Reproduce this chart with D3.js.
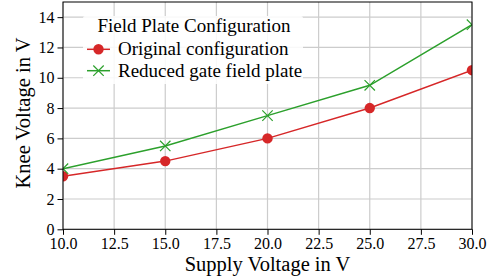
<!DOCTYPE html>
<html>
<head>
<meta charset="utf-8">
<script src="https://cdn.jsdelivr.net/npm/d3@7"></script>
<style>
  body { margin: 0; background: #fff; }
  text { font-family: "Liberation Serif", "DejaVu Serif", serif; fill: #000; }
</style>
</head>
<body>
<div id="chart"></div>
<script>
const supplyVoltage = [10, 15, 20, 25, 30];
const originalKnee = [3.5, 4.5, 6, 8, 10.5];
const reducedKnee = [4, 5.5, 7.5, 9.5, 13.5];
const xTicks = [10, 12.5, 15, 17.5, 20, 22.5, 25, 27.5, 30];
const yTicks = [0, 2, 4, 6, 8, 10, 12, 14];
const seriesNames = ["Original configuration", "Reduced gate field plate"];
const legendTitle = "Field Plate Configuration";

const chart_width = 498, chart_height = 278;
const margin = {left: 63, right: 26, top: 2, bottom: 48.7};
const w = chart_width - margin.left - margin.right;
const h = chart_height - margin.top - margin.bottom;

const svg = d3.select("#chart").append("svg")
  .attr("width", chart_width).attr("height", chart_height);

const x = d3.scaleLinear().domain([10, 30]).range([0, w]);
const y = d3.scaleLinear().domain([0, 15]).range([h, 0]);

const g = svg.append("g").attr("transform", `translate(${margin.left},${margin.top})`);

// grid
g.append("g").selectAll("line").data(xTicks).enter().append("line")
  .attr("x1", d => x(d)).attr("x2", d => x(d)).attr("y1", 0).attr("y2", h)
  .attr("stroke", "#cccccc").attr("stroke-width", 1.2);
g.append("g").selectAll("line").data(yTicks).enter().append("line")
  .attr("y1", d => y(d)).attr("y2", d => y(d)).attr("x1", 0).attr("x2", w)
  .attr("stroke", "#cccccc").attr("stroke-width", 1.2);

svg.append("clipPath").attr("id", "clip").append("rect")
  .attr("width", w).attr("height", h);

const plot = g.append("g").attr("clip-path", "url(#clip)");
const series = [
  {name: seriesNames[0], values: originalKnee, color: "#d62728", marker: "circle"},
  {name: seriesNames[1], values: reducedKnee, color: "#2ca02c", marker: "x"}
];
const line = d3.line().x((d, i) => x(supplyVoltage[i])).y(d => y(d));

function drawMarker(sel, s, cx, cy) {
  if (s.marker === "circle") {
    sel.append("circle").attr("cx", cx).attr("cy", cy).attr("r", 5.2).attr("fill", s.color);
  } else {
    const r = 5.2;
    sel.append("path")
      .attr("d", `M${cx - r},${cy - r}L${cx + r},${cy + r}M${cx - r},${cy + r}L${cx + r},${cy - r}`)
      .attr("stroke", s.color).attr("stroke-width", 1.2).attr("fill", "none");
  }
}

series.forEach(s => {
  plot.append("path").datum(s.values).attr("d", line)
    .attr("fill", "none").attr("stroke", s.color).attr("stroke-width", 1.5);
  s.values.forEach((v, i) => drawMarker(plot, s, x(supplyVoltage[i]), y(v)));
});

// axes
const xAxis = d3.axisBottom(x).tickValues(xTicks).tickFormat(d3.format(".1f")).tickSizeOuter(0).tickSize(5.5);
const yAxis = d3.axisLeft(y).tickValues(yTicks).tickSizeOuter(0).tickSize(5.5);
const xg = g.append("g").attr("transform", `translate(0,${h})`).call(xAxis);
const yg = g.append("g").call(yAxis);
[xg, yg].forEach(a => {
  a.select(".domain").remove();
  a.selectAll(".tick line").attr("stroke", "#000").attr("stroke-width", 1);
  a.selectAll(".tick text").style("font-family", "Liberation Serif").style("font-size", "16px").attr("fill", "#000");
});

// spines
g.append("rect").attr("width", w).attr("height", h)
  .attr("fill", "none").attr("stroke", "#000").attr("stroke-width", 1);

// axis labels
svg.append("text").attr("x", margin.left + w / 2).attr("y", 271)
  .attr("text-anchor", "middle").style("font-size", "20.5px").text("Supply Voltage in V");
svg.append("text").attr("transform", `translate(30,113) rotate(-90)`)
  .attr("text-anchor", "middle").style("font-size", "20.5px").text("Knee Voltage in V");

// legend
const lg = g.append("g").attr("transform", "translate(20,14)");
lg.append("rect").attr("x", 0).attr("y", 0).attr("width", 220).attr("height", 68)
  .attr("fill", "#fff").attr("opacity", 0.85).attr("rx", 2);
lg.append("text").attr("x", 111).attr("y", 16.3).attr("text-anchor", "middle")
  .style("font-size", "19px").text(legendTitle);
series.forEach((s, i) => {
  const ly = 33.3 + i * 21.4;
  lg.append("line").attr("x1", 4).attr("x2", 27).attr("y1", ly).attr("y2", ly)
    .attr("stroke", s.color).attr("stroke-width", 1.5);
  drawMarker(lg, s, 15.5, ly);
  lg.append("text").attr("x", 35).attr("y", ly + 6).style("font-size", "19px").text(s.name);
});
</script>
</body>
</html>
